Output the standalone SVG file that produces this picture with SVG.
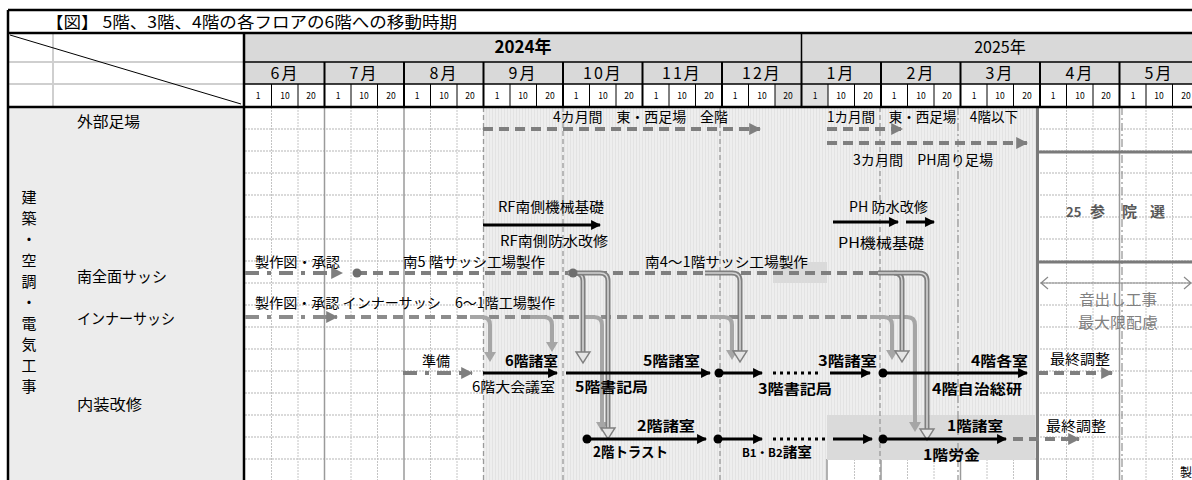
<svg xmlns="http://www.w3.org/2000/svg" width="1192" height="480" viewBox="0 0 1192 480">
<defs>
<style>
text{font-family:"Noto Sans CJK JP","Noto Sans",sans-serif;fill:#000}
.n{font-size:14px}
.b{font-size:14px;font-weight:bold}
.hd{font-size:16px;letter-spacing:2px;text-anchor:middle}
.d{font-size:8.5px;text-anchor:middle}
.lbl{font-size:15px}
.gdash{fill:none;stroke:#7f7f7f;stroke-width:4;stroke-dasharray:10 6}
.gdd{fill:none;stroke:#7f7f7f;stroke-width:4;stroke-dasharray:14 8 4 8}
.blk{fill:none;stroke:#000;stroke-width:3}
.pipeo{fill:none;stroke:#7f7f7f;stroke-width:5}
.pipei{fill:none;stroke:#d4d4d4;stroke-width:1.6}
.pipes{fill:none;stroke:#a6a6a6;stroke-width:4}
.ah{fill:#e4e4e4;stroke:#7f7f7f;stroke-width:1.4}
.sah{fill:#a6a6a6}
.gv{stroke:#c4c4c4;stroke-width:1;stroke-dasharray:2 1}
.gm{stroke:#9a9a9a;stroke-width:1.5}
.gh{stroke:#b5b5b5;stroke-width:1;stroke-dasharray:2 1}
.vd{stroke:#9a9a9a;stroke-width:1.3;stroke-dasharray:5 3}
.vdd{stroke:#9a9a9a;stroke-width:1.3;stroke-dasharray:8 3 2 3}
</style>
<marker id="ab" viewBox="0 0 10 10" refX="9" refY="5" markerWidth="3.3" markerHeight="3.3" orient="auto" markerUnits="strokeWidth"><path d="M0 0L10 5L0 10z" fill="#000"/></marker>
<marker id="ag" viewBox="0 0 10 10" refX="9" refY="5" markerWidth="3" markerHeight="3" orient="auto" markerUnits="strokeWidth"><path d="M0 0L10 5L0 10z" fill="#7f7f7f"/></marker>
<pattern id="hatch" width="3" height="4" patternUnits="userSpaceOnUse"><rect width="3" height="4" fill="#eeeeee"/><rect width="1" height="4" fill="#e3e3e3"/></pattern>
</defs>

<rect width="1192" height="480" fill="#fff"/>

<!-- Title -->
<g id="title">
<text x="46" y="28" textLength="411" lengthAdjust="spacingAndGlyphs" style="font-size:16px">【図】 5階、3階、4階の各フロアの6階への移動時期</text>
</g>

<!-- left label column -->
<g id="labels">
<rect x="8" y="107" width="236" height="373" fill="#ececec"/>
<g class="lbl" style="text-anchor:middle">
<text x="29" y="203">建</text><text x="29" y="224">築</text><text x="29" y="245">・</text>
<text x="29" y="266">空</text><text x="29" y="287">調</text><text x="29" y="308">・</text>
<text x="29" y="329">電</text><text x="29" y="350">気</text><text x="29" y="371">工</text><text x="29" y="392">事</text>
</g>
<text class="lbl" x="77" y="127" textLength="63" lengthAdjust="spacingAndGlyphs">外部足場</text>
<text class="lbl" x="77" y="282" textLength="90" lengthAdjust="spacingAndGlyphs">南全面サッシ</text>
<text class="lbl" x="77" y="324" textLength="98" lengthAdjust="spacingAndGlyphs">インナーサッシ</text>
<text class="lbl" x="77" y="410" textLength="65" lengthAdjust="spacingAndGlyphs">内装改修</text>
</g>

<!-- header -->
<g id="header">
<rect x="245" y="33" width="947" height="29" fill="#d9d9d9"/>
<rect x="245" y="62" width="947" height="22" fill="#d9d9d9"/>
<rect x="775" y="84" width="53" height="23" fill="#e0e0e0"/>
<path d="M53 33V107M8 62H243M8 84H243" stroke="#cfcfcf" stroke-width="2"/>
<path d="M10 35L241 104" stroke="#000" stroke-width="1"/>
<path d="M801.5 33V62M245 62H1192M245 84H1192" stroke="#000" stroke-width="1.5"/>
<path d="M324.5 62V107M404 62V107M483.5 62V107M563 62V107M642.5 62V107M722 62V107M801.5 62V107M881 62V107M960.5 62V107M1040 62V107M1119.5 62V107" stroke="#000" stroke-width="2"/>
<path d="M271.5 84V107M298 84V107M351 84V107M377.5 84V107M430.5 84V107M457 84V107M510 84V107M536.5 84V107M589.5 84V107M616 84V107M669 84V107M695.5 84V107M748.5 84V107M775 84V107M828 84V107M854.5 84V107M907.5 84V107M934 84V107M987 84V107M1013.5 84V107M1066.5 84V107M1093 84V107M1146 84V107M1172.5 84V107" stroke="#000" stroke-width="1"/>
<text x="523" y="53" style="font-size:17px;font-weight:bold;text-anchor:middle">2024年</text>
<text x="1000" y="53" style="font-size:16px;text-anchor:middle">2025年</text>
<text class="hd" x="285" y="79">6月</text><text class="hd" x="364" y="79">7月</text><text class="hd" x="444" y="79">8月</text>
<text class="hd" x="523" y="79">9月</text><text class="hd" x="603" y="79">10月</text><text class="hd" x="682" y="79">11月</text>
<text class="hd" x="762" y="79">12月</text><text class="hd" x="841" y="79">1月</text><text class="hd" x="921" y="79">2月</text>
<text class="hd" x="1000" y="79">3月</text><text class="hd" x="1080" y="79">4月</text><text class="hd" x="1159" y="79">5月</text>
<g class="d">
<text x="258" y="99">1</text><text x="285" y="99">10</text><text x="311" y="99">20</text>
<text x="338" y="99">1</text><text x="364" y="99">10</text><text x="391" y="99">20</text>
<text x="417" y="99">1</text><text x="444" y="99">10</text><text x="470" y="99">20</text>
<text x="497" y="99">1</text><text x="523" y="99">10</text><text x="550" y="99">20</text>
<text x="576" y="99">1</text><text x="603" y="99">10</text><text x="629" y="99">20</text>
<text x="656" y="99">1</text><text x="682" y="99">10</text><text x="709" y="99">20</text>
<text x="735" y="99">1</text><text x="762" y="99">10</text><text x="788" y="99">20</text>
<text x="815" y="99">1</text><text x="841" y="99">10</text><text x="868" y="99">20</text>
<text x="894" y="99">1</text><text x="921" y="99">10</text><text x="947" y="99">20</text>
<text x="974" y="99">1</text><text x="1000" y="99">10</text><text x="1027" y="99">20</text>
<text x="1053" y="99">1</text><text x="1080" y="99">10</text><text x="1106" y="99">20</text>
<text x="1133" y="99">1</text><text x="1159" y="99">10</text><text x="1186" y="99">20</text>
</g>
</g>

<!-- body grid -->
<g id="grid">
<path class="gh" d="M245 129H1192M245 151H1192M245 173H1192M245 195H1192M245 217H1192M245 239H1192M245 261H1192M245 283H1192M245 305H1192M245 327H1192M245 349H1192M245 371H1192M245 393H1192M245 415H1192M245 437H1192M245 459H1192"/>
<path class="gv" d="M271.5 107V480M298 107V480M351 107V480M377.5 107V480M430.5 107V480M457 107V480M1066.5 107V480M1093 107V480M1146 107V480M1172.5 107V480"/>
<path class="gm" d="M324.5 107V480M404 107V480M1119.5 107V480"/>
<rect x="483.5" y="107" width="553.5" height="353" fill="url(#hatch)"/>
<rect x="483.5" y="459" width="343.5" height="21" fill="url(#hatch)"/>
<path class="gh" d="M827 459H1037"/>
<path class="gv" d="M854.5 459V480M907.5 459V480M934 459V480M987 459V480M1013.5 459V480"/>
<path class="gm" d="M827 459V480M881 459V480M960.5 459V480"/>
<rect x="827" y="415" width="208" height="45" fill="#dadada"/>
<rect x="773" y="262" width="54" height="21" fill="#dadada"/>
<path class="vd" d="M483.5 107V480M563 107V480M720 107V480M880 107V480"/>
<path class="vdd" d="M958 107V480M1122 107V480"/>
<path d="M1037.5 107V480M1037 152H1192M1037 262H1192" stroke="#7a7a7a" stroke-width="3"/>
<path d="M1041 283H1190M1048 277L1041 283L1048 289M1184 277L1191 283L1184 289" fill="none" stroke="#8a8a8a" stroke-width="1.2"/>
</g>

<!-- frame -->
<g id="frame">
<path d="M8 10H1192M8 33H1192M8 107H1192" stroke="#000" stroke-width="2.5"/>
<path d="M8 10V480M244 33V480" stroke="#000" stroke-width="2.5"/>
</g>

<!-- connectors -->
<g id="connectors">
<path class="gdash" d="M483 129H760" marker-end="url(#ag)"/>
<path class="gdash" d="M827 129H902" marker-end="url(#ag)"/>
<path class="gdash" d="M827 143H1027" marker-end="url(#ag)"/>
<path class="blk" d="M483 225H600" marker-end="url(#ab)"/>
<path class="blk" d="M833 222H898" marker-end="url(#ab)"/>
<path class="blk" d="M906 222H934" marker-end="url(#ab)"/>
<path class="gdd" d="M245 273H342" marker-end="url(#ag)"/>
<path class="gdash" d="M357 273H890"/>
<path d="M245 317H337" fill="none" stroke="#8c8c8c" stroke-width="4" stroke-dasharray="14 8 4 8" marker-end="url(#ag)"/>
<path d="M345 317H890" fill="none" stroke="#8c8c8c" stroke-width="4" stroke-dasharray="10 6"/>
<path class="pipes" d="M470 317H482Q490 317 490 325V353"/><path class="sah" d="M484 352H496L490 362z"/>
<path class="pipes" d="M530 317H544Q552 317 552 325V343"/><path class="sah" d="M546 342H558L552 352z"/>
<path class="pipes" d="M585 317H594Q602 317 602 325V423"/><path class="sah" d="M596 422H608L602 432z"/>
<path class="pipes" d="M710 317H724Q732 317 732 325V351"/><path class="sah" d="M726 350H738L732 360z"/>
<path class="pipes" d="M870 317H884Q892 317 892 325V351"/><path class="sah" d="M886 350H898L892 360z"/>
<path class="pipes" d="M890 317H907Q915 317 915 325V423"/><path class="sah" d="M909 422H921L915 432z"/>
<path class="pipeo" d="M568 273H575Q583 273 583 281V352"/><path class="pipei" d="M568 273H575Q583 273 583 281V352"/><path class="ah" d="M576 352H590L583 363z"/>
<path class="pipeo" d="M575 273H600Q608 273 608 281V428"/><path class="pipei" d="M575 273H600Q608 273 608 281V428"/><path class="ah" d="M601 428H615L608 439z"/>
<path class="pipeo" d="M705 273H732Q740 273 740 281V351"/><path class="pipei" d="M705 273H732Q740 273 740 281V351"/><path class="ah" d="M733 351H747L740 362z"/>
<path class="pipeo" d="M878 273H894Q902 273 902 281V351"/><path class="pipei" d="M878 273H894Q902 273 902 281V351"/><path class="ah" d="M895 351H909L902 362z"/>
<path class="pipeo" d="M894 273H919Q927 273 927 281V429"/><path class="pipei" d="M894 273H919Q927 273 927 281V429"/><path class="ah" d="M920 429H934L927 440z"/>
<circle cx="357" cy="273" r="4.5" fill="#6e6e6e"/>
<circle cx="573" cy="273" r="4.5" fill="#6e6e6e"/>
<path class="gdd" d="M403 373H472" marker-end="url(#ag)"/>
<path class="blk" d="M483 373H557" marker-end="url(#ab)"/>
<path class="blk" d="M566 373H710" marker-end="url(#ab)"/>
<circle cx="719" cy="373" r="4.5"/>
<path class="blk" d="M719 373H762" marker-end="url(#ab)"/>
<path d="M773 373H822" stroke="#000" stroke-width="3" stroke-dasharray="3 4"/>
<path class="blk" d="M830 373H870" marker-end="url(#ab)"/>
<circle cx="883" cy="373" r="4.5"/>
<path class="blk" d="M883 373H1027" marker-end="url(#ab)"/>
<path class="gdash" d="M1038 373H1112" marker-end="url(#ag)"/>
<circle cx="587" cy="439" r="4.5"/>
<path class="blk" d="M587 439H706" marker-end="url(#ab)"/>
<circle cx="718" cy="439" r="4.5"/>
<path class="blk" d="M718 439H762" marker-end="url(#ab)"/>
<path d="M773 439H827" stroke="#000" stroke-width="3" stroke-dasharray="3 4"/>
<path class="blk" d="M833 439H872" marker-end="url(#ab)"/>
<circle cx="883" cy="439" r="4.5"/>
<path class="blk" d="M883 439H1006" marker-end="url(#ab)"/>
<path class="gdash" d="M1013 439H1079" marker-end="url(#ag)"/>
</g>

<!-- task labels -->
<g id="tasks">
<text class="n" x="553" y="122" textLength="175" lengthAdjust="spacingAndGlyphs">4カ月間　東・西足場　全階</text>
<text class="n" x="827" y="122" textLength="191" lengthAdjust="spacingAndGlyphs">1カ月間　東・西足場　4階以下</text>
<text class="n" x="853" y="165" textLength="140" lengthAdjust="spacingAndGlyphs">3カ月間　PH周り足場</text>
<text class="n" x="498" y="212" textLength="106" lengthAdjust="spacingAndGlyphs">RF南側機械基礎</text>
<text class="n" x="500" y="246" textLength="108" lengthAdjust="spacingAndGlyphs">RF南側防水改修</text>
<text class="n" x="849" y="212" textLength="79" lengthAdjust="spacingAndGlyphs">PH 防水改修</text>
<text class="n" x="838" y="248" textLength="86" lengthAdjust="spacingAndGlyphs">PH機械基礎</text>
<text class="n" x="255" y="267" textLength="85" lengthAdjust="spacingAndGlyphs">製作図・承認</text>
<text class="n" x="403" y="267" textLength="142" lengthAdjust="spacingAndGlyphs">南5 階サッシ工場製作</text>
<text class="n" x="645" y="267" textLength="163" lengthAdjust="spacingAndGlyphs">南4～1階サッシ工場製作</text>
<text class="n" x="255" y="308" textLength="300" lengthAdjust="spacingAndGlyphs">製作図・承認 インナーサッシ　6～1階工場製作</text>
<text class="n" x="422" y="366" textLength="28" lengthAdjust="spacingAndGlyphs">準備</text>
<text class="b" x="505" y="366" textLength="53" lengthAdjust="spacingAndGlyphs">6階諸室</text>
<text class="n" x="472" y="392" textLength="83" lengthAdjust="spacingAndGlyphs">6階大会議室</text>
<text class="b" x="643" y="366" textLength="57" lengthAdjust="spacingAndGlyphs">5階諸室</text>
<text class="b" x="575" y="392" textLength="73" lengthAdjust="spacingAndGlyphs">5階書記局</text>
<text class="b" x="818" y="366" textLength="59" lengthAdjust="spacingAndGlyphs">3階諸室</text>
<text class="b" x="758" y="394" textLength="74" lengthAdjust="spacingAndGlyphs">3階書記局</text>
<text class="b" x="971" y="366" textLength="57" lengthAdjust="spacingAndGlyphs">4階各室</text>
<text class="b" x="932" y="394" textLength="90" lengthAdjust="spacingAndGlyphs">4階自治総研</text>
<text class="n" x="1050" y="364" textLength="60" lengthAdjust="spacingAndGlyphs">最終調整</text>
<text class="b" x="637" y="431" textLength="58" lengthAdjust="spacingAndGlyphs">2階諸室</text>
<text class="b" x="593" y="457" textLength="75" lengthAdjust="spacingAndGlyphs">2階トラスト</text>
<text class="b" x="742" y="457" textLength="70" lengthAdjust="spacingAndGlyphs"><tspan style="font-size:11px">B1・B2</tspan>諸室</text>
<text class="b" x="947" y="431" textLength="56" lengthAdjust="spacingAndGlyphs">1階諸室</text>
<text class="b" x="923" y="460" textLength="57" lengthAdjust="spacingAndGlyphs">1階労金</text>
<text class="n" x="1046" y="431" textLength="60" lengthAdjust="spacingAndGlyphs">最終調整</text>
<text x="1066" y="217" style="font-size:13px;font-weight:bold;fill:#595959">25</text>
<text x="1090" y="217" style="font-size:15px;font-weight:bold;fill:#595959">参</text>
<text x="1122" y="217" style="font-size:15px;font-weight:bold;fill:#595959">院</text>
<text x="1150" y="217" style="font-size:15px;font-weight:bold;fill:#595959">選</text>
<text x="1079" y="305" textLength="78" lengthAdjust="spacingAndGlyphs" style="font-size:15px;fill:#808080">音出し工事</text>
<text x="1078" y="328" textLength="80" lengthAdjust="spacingAndGlyphs" style="font-size:15px;fill:#808080">最大限配慮</text>
<text x="1180" y="477" style="font-size:12px">製</text>
</g>
</svg>
